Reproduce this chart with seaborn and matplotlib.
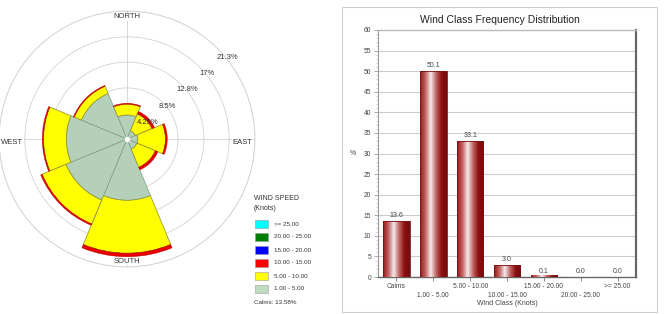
import numpy as np
import matplotlib
matplotlib.use("Agg")
import matplotlib.pyplot as plt
import seaborn as sns
from matplotlib.patches import Rectangle
from matplotlib.colors import LinearSegmentedColormap

# ---------------- data ----------------
directions = ["N", "NE", "E", "SE", "S", "SW", "W", "NW"]
dir_degrees = [0, 45, 90, 135, 180, 225, 270, 315]
speed_1_5 = [4.0, 1.5, 1.8, 1.8, 10.2, 11.0, 10.1, 8.2]
speed_5_10 = [1.8, 3.0, 4.6, 3.3, 8.8, 4.3, 3.8, 1.3]
speed_10_15 = [0.15, 0.45, 0.3, 0.45, 0.6, 0.25, 0.2, 0.15]
ring_values = [4.25, 8.5, 12.8, 17.0, 21.3]
ring_labels = ["4.25%", "8.5%", "12.8%", "17%", "21.3%"]
legend_labels = [">= 25.00", "20.00 - 25.00", "15.00 - 20.00", "10.00 - 15.00",
                 "5.00 - 10.00", "1.00 - 5.00"]
legend_colors = ["#00ffff", "#008000", "#0000ff", "#ff0000", "#ffff00", "#c0dcc0"]
calms_text = "Calms: 13.58%"

wind_classes = ["Calms", "1.00 - 5.00", "5.00 - 10.00", "10.00 - 15.00",
                "15.00 - 20.00", "20.00 - 25.00", ">= 25.00"]
class_freq = [13.6, 50.1, 33.1, 3.0, 0.1, 0.0, 0.0]
value_labels = ["13.6", "50.1", "33.1", "3.0", "0.1", "0.0", "0.0"]

sns.set_style("white")
plt.rcParams["font.family"] = ["Liberation Sans", "DejaVu Sans"]

W, H = 668, 314
fig = plt.figure(figsize=(W / 100, H / 100), dpi=100)

# ---------------- wind rose ----------------
cx, cy, rad = 127, 139, 128
axr = fig.add_axes([(cx - rad) / W, (H - cy - rad) / H, 2 * rad / W, 2 * rad / H],
                   projection="polar")
axr.set_theta_zero_location("N")
axr.set_theta_direction(-1)
theta = np.deg2rad(dir_degrees)
width = np.deg2rad(45)
b1 = np.array(speed_1_5)
b2 = b1 + np.array(speed_5_10)
axr.bar(theta, speed_1_5, width=width, bottom=0, color="#b4d0b8",
        edgecolor="#7f9c84", linewidth=0.5, zorder=3)
axr.bar(theta, speed_5_10, width=width, bottom=b1, color="#ffff00",
        edgecolor="#8c8a30", linewidth=0.5, zorder=3)
axr.bar(theta, speed_10_15, width=width, bottom=b2, color="#e80000",
        edgecolor="#b00000", linewidth=0.3, zorder=3)
axr.plot([0], [0], "o", color="white", ms=3, zorder=6)
axr.set_ylim(0, ring_values[-1])
axr.set_yticks(ring_values)
axr.set_yticklabels([])
axr.set_xticks(np.deg2rad([0, 90, 180, 270]))
axr.set_xticklabels([])
axr.grid(True, color="#d2d2d2", linewidth=0.6)
axr.spines["polar"].set_color("#d2d2d2")
axr.spines["polar"].set_linewidth(0.6)
for rv, lab in zip(ring_values, ring_labels):
    axr.text(np.deg2rad(51), rv + 0.2, lab, ha="center", va="center",
             fontsize=5.5, color="#333333", zorder=7)
txt_kw = dict(fontsize=5.5, color="#333333", zorder=8,
              bbox=dict(facecolor="white", edgecolor="none", pad=0.6))
axr.text(0, 20.9, "NORTH", ha="center", va="top", **txt_kw)
axr.text(np.pi / 2, 20.9, "EAST", ha="right", va="top", **txt_kw)
axr.text(np.pi, 20.9, "SOUTH", ha="center", va="bottom", **txt_kw)
axr.text(3 * np.pi / 2, 20.9, "WEST", ha="left", va="top", **txt_kw)

# legend of the rose
fig.text(254 / W, 1 - 199 / H, "WIND SPEED", fontsize=5, color="#333333", va="center")
fig.text(254 / W, 1 - 209 / H, "(Knots)", fontsize=5, color="#333333", va="center")
for i, (lab, col) in enumerate(zip(legend_labels, legend_colors)):
    yc = 224 + i * 13
    fig.patches.append(Rectangle((255 / W, 1 - (yc + 4) / H), 13 / W, 8 / H,
                                 transform=fig.transFigure, facecolor=col,
                                 edgecolor="#999999", linewidth=0.4))
    fig.text(274 / W, 1 - yc / H, lab, fontsize=4.5, color="#333333", va="center")
fig.text(254 / W, 1 - 302 / H, calms_text, fontsize=4.5, color="#333333", va="center")

# ---------------- bar chart ----------------
fig.patches.append(Rectangle((342 / W, 2 / H), 315 / W, 305 / H,
                             transform=fig.transFigure, fill=False,
                             edgecolor="#cccccc", linewidth=0.8))
left, right, top, bottom = 378, 636, 30, 277
axb = fig.add_axes([left / W, (H - bottom) / H, (right - left) / W, (bottom - top) / H])
sns.barplot(x=wind_classes, y=class_freq, ax=axb, color="#a01818", width=0.72,
            saturation=1, zorder=3)
xlim = (-0.5, len(wind_classes) - 0.5)
ylim = (0, 60)
cmap = LinearSegmentedColormap.from_list(
    "cyl", ["#921818", "#c46060", "#f4ecec", "#c26464", "#8a1010", "#780c0c"],
    N=256)
grad = np.linspace(0, 1, 256).reshape(1, -1)
for p in list(axb.patches):
    x0, y0, w, h = p.get_x(), p.get_y(), p.get_width(), p.get_height()
    if h <= 0:
        continue
    hh = max(h, 0.25)
    im = axb.imshow(grad, extent=[x0, x0 + w, y0, y0 + hh], aspect="auto",
                    cmap=cmap, zorder=4, interpolation="bilinear")
    if h >= 0.25:
        im.set_clip_path(p)
    p.set_edgecolor("#7a1010")
    p.set_linewidth(0.6)
    p.set_zorder(5)
    p.set_facecolor("none")
axb.set_xlim(*xlim)
axb.set_ylim(*ylim)
for i, (v, lab) in enumerate(zip(class_freq, value_labels)):
    axb.text(i, v + 0.4, lab, ha="center", va="bottom", fontsize=5, color="#444444",
             zorder=6)
axb.set_yticks(np.arange(0, 61, 5))
axb.set_yticks(np.arange(0, 61, 1), minor=True)
axb.yaxis.grid(True, color="#cccccc", linewidth=0.8, zorder=0)
axb.set_axisbelow(True)
ticklabs = [lab if i % 2 == 0 else "\n" + lab for i, lab in enumerate(wind_classes)]
axb.set_xticks(range(len(wind_classes)))
axb.set_xticklabels(ticklabs, fontsize=4.8, color="#444444", linespacing=1.3)
axb.tick_params(axis="y", which="major", labelsize=4.8, labelcolor="#444444",
                length=3, color="#888888", width=0.5, pad=2, left=True)
axb.tick_params(axis="y", which="minor", length=1.5, color="#aaaaaa", width=0.4,
                left=True)
axb.tick_params(axis="x", length=3, color="#666666", width=0.5, pad=1.5, bottom=True)
axb.set_xlabel("Wind Class (Knots)", fontsize=5, color="#444444", labelpad=1)
axb.set_ylabel("%", fontsize=5, color="#444444", rotation=0, labelpad=8, va="center")
for s, c, lw in [("left", "#999999", 0.8), ("bottom", "#666666", 1.0),
                 ("top", "#bbbbbb", 1.0), ("right", "#666666", 1.6)]:
    axb.spines[s].set_visible(True)
    axb.spines[s].set_color(c)
    axb.spines[s].set_linewidth(lw)
fig.text(500 / W, 1 - 20 / H, "Wind Class Frequency Distribution", ha="center",
         va="center", fontsize=7.5, color="#222222")

fig.savefig("out.png", dpi=100)
